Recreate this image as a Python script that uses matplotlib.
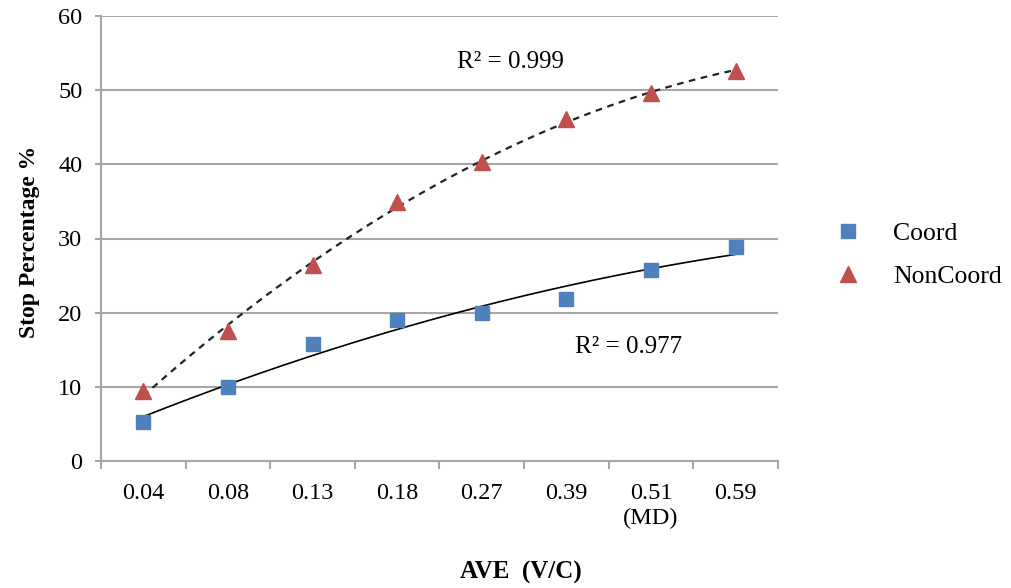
import numpy as np
import matplotlib
matplotlib.use("Agg")
import matplotlib.pyplot as plt

categories = ["0.04", "0.08", "0.13", "0.18", "0.27", "0.39", "0.51\n(MD)", "0.59"]
coord = [5.3, 10.0, 15.8, 19.0, 20.0, 21.8, 25.8, 28.8]
noncoord = [9.4, 17.5, 26.4, 34.9, 40.3, 46.1, 49.6, 52.6]
r2_coord = "R² = 0.977"
r2_noncoord = "R² = 0.999"
y_ticks = [0, 10, 20, 30, 40, 50, 60]

plt.rcParams['font.family'] = ['Liberation Serif', 'DejaVu Serif']

fig = plt.figure(figsize=(10.12, 5.88), dpi=100)
ax = fig.add_axes([101/1012, 1 - 461/588, (778-101)/1012, (461-16)/588])

x = np.arange(1, len(categories) + 1)

# trendlines (2nd-order polynomial)
xs = np.linspace(1, len(categories), 200)
pc = np.polyfit(x, coord, 2)
pn = np.polyfit(x, noncoord, 2)
ax.plot(xs, np.polyval(pc, xs), color='black', lw=1.2, zorder=3)
ax.plot(xs, np.polyval(pn, xs), color='#222222', lw=1.6, ls=(0, (3, 2.5)), zorder=3)

ax.plot(x, coord, ls='none', marker='s', ms=10, color='#4F81BD', label='Coord', zorder=4)
ax.plot(x, noncoord, ls='none', marker='^', ms=11, color='#C0504D', label='NonCoord', zorder=4)

ax.set_xlim(0.5, len(categories) + 0.5)
ax.set_ylim(0, 60)
ax.set_yticks(y_ticks)
ax.yaxis.grid(True, color='#a6a6a6', lw=1.5)
ax.set_axisbelow(True)

ax.set_xticks(np.arange(0.5, len(categories) + 1, 1))
ax.set_xticklabels([])
ax.set_xticks(x, minor=True)
ax.set_xticklabels(categories, minor=True)
ax.tick_params(axis='x', which='major', length=6, width=1.5, color='#a6a6a6')
ax.tick_params(axis='x', which='minor', length=0, pad=16, labelsize=17.5)
ax.tick_params(axis='y', length=4.5, width=1.5, color='#a6a6a6', pad=9, labelsize=17.5)

for s in ['top', 'right']:
    ax.spines[s].set_visible(False)
for s in ['left', 'bottom']:
    ax.spines[s].set_color('#a6a6a6')
    ax.spines[s].set_linewidth(1.5)

ax.text(4.71, 53.8, r2_noncoord, fontsize=18, ha='left', va='center')
ax.text(6.10, 15.4, r2_coord, fontsize=18, ha='left', va='center')

fig.text(30/1012, 1 - 242/588, "Stop Percentage %", rotation=90, fontsize=17,
         fontweight='bold', ha='center', va='center')
fig.text(521/1012, 1 - 572/588, "AVE  (V/C)", fontsize=18, fontweight='bold',
         ha='center', va='center')

leg = ax.legend(loc='center left', bbox_to_anchor=(835/1012, 1 - 255/588),
                bbox_transform=fig.transFigure, frameon=False, fontsize=18.5,
                borderpad=0, borderaxespad=0, handlelength=1.0,
                handletextpad=1.26, labelspacing=0.75)

fig.savefig("out.png", dpi=100)
